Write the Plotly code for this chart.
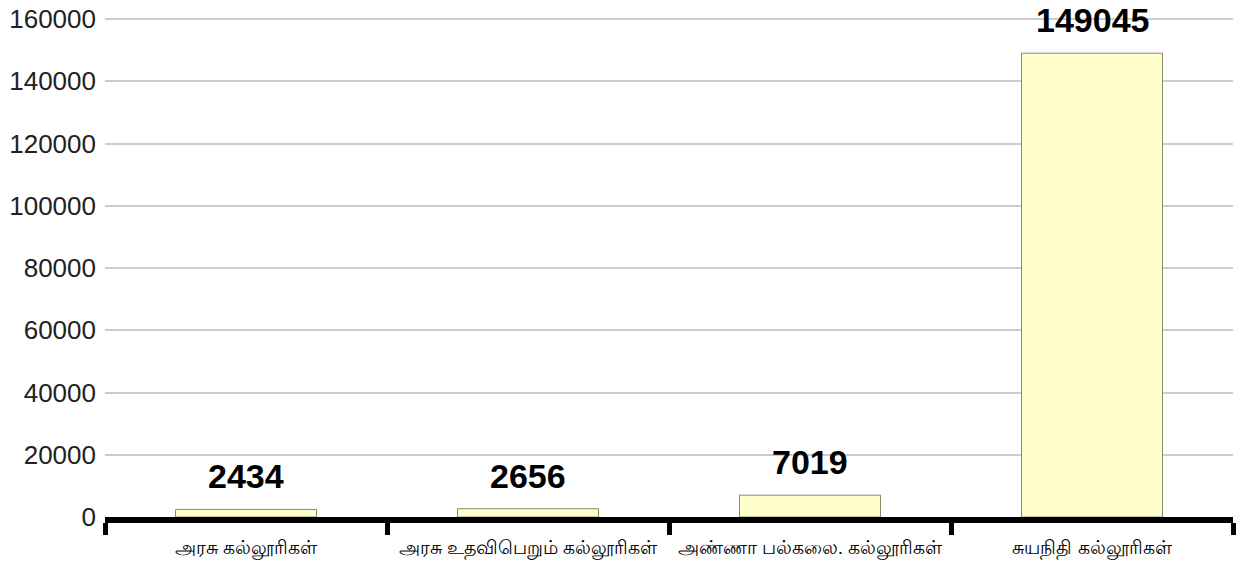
import plotly.graph_objects as go

# Données
colleges = ["அரசு கல்லூரிகள்", "அரசு உதவிபெறும் கல்லூரிகள்",
            "அண்ணா பல்கலை. கல்லூரிகள்", "சுயநிதி கல்லூரிகள்"]
values = [2434, 2656, 7019, 149045]
y_ticks = [0, 20000, 40000, 60000, 80000, 100000, 120000, 140000, 160000]

fig = go.Figure()
fig.add_trace(go.Bar(x=colleges, y=values, width=0.5,
                     marker=dict(color="#FFFFCC", line=dict(color="#8a8a70", width=1))))

# étiquettes au-dessus des barres
for c, v in zip(colleges, values):
    fig.add_annotation(x=c, y=v, text=str(v), showarrow=False, yanchor="bottom", yshift=12,
                       font=dict(family="Liberation Sans", size=34, color="black", weight="bold"))

fig.update_layout(
    width=1246, height=566,
    margin=dict(l=105, r=13, t=16, b=49),
    plot_bgcolor="white", paper_bgcolor="white",
    showlegend=False, bargap=0.5,
)
fig.update_yaxes(range=[0, 161000], tickvals=y_ticks, ticktext=[str(t) for t in y_ticks],
                 showgrid=True, gridcolor="#cccccc", gridwidth=2, zeroline=False,
                 showline=False, ticks="", ticklabelstandoff=8, automargin=False,
                 tickfont=dict(family="Liberation Sans", size=26, color="#222"))
fig.update_xaxes(showline=True, linecolor="black", linewidth=6, ticks="outside",
                 tickson="boundaries", ticklen=12, tickwidth=5, tickcolor="black",
                 automargin=False, ticklabelstandoff=8,
                 tickfont=dict(family="Liberation Sans", size=19, color="black"))

# pas de marge autour du graphique dans la page
fig.write_html("out.html", config={"displayModeBar": False},
               post_script="document.body.style.margin='0px';")
